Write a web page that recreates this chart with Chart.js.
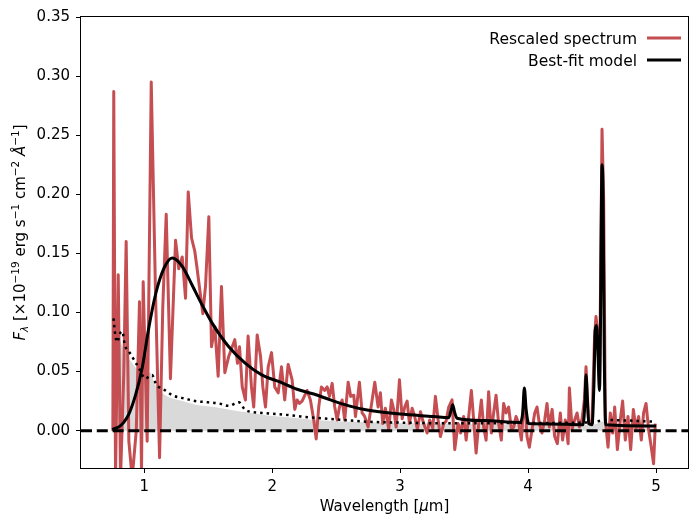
<!DOCTYPE html>
<html>
<head>
<meta charset="utf-8">
<script src="https://cdn.jsdelivr.net/npm/chart.js@4.4.0/dist/chart.umd.min.js"></script>
<style>
  html, body { margin: 0; padding: 0; background: #fff; }
  canvas { display: block; }
</style>
</head>
<body>
<canvas id="chart" width="689" height="516"></canvas>
<script>
// Rescaled spectrum
const specWave = [0.755, 0.762, 0.776, 0.797, 0.815, 0.84, 0.859, 0.880, 0.906, 0.938, 0.963, 0.979, 0.992, 1.023, 1.055, 1.088, 1.12, 1.145, 1.172, 1.205, 1.245, 1.270, 1.297, 1.323, 1.344, 1.37, 1.395, 1.41, 1.458, 1.479, 1.505, 1.526, 1.552, 1.578, 1.604, 1.630, 1.661, 1.688, 1.708, 1.729, 1.745, 1.766, 1.791, 1.812, 1.838, 1.856, 1.883, 1.909, 1.927, 1.948, 1.969, 1.995, 2.020, 2.047, 2.073, 2.098, 2.125, 2.156, 2.177, 2.195, 2.213, 2.234, 2.273, 2.299, 2.325, 2.344, 2.364, 2.385, 2.411, 2.430, 2.448, 2.469, 2.489, 2.508, 2.526, 2.547, 2.567, 2.594, 2.614, 2.638, 2.651, 2.682, 2.703, 2.723, 2.750, 2.776, 2.802, 2.828, 2.846, 2.864, 2.885, 2.911, 2.932, 2.950, 2.969, 2.995, 3.016, 3.036, 3.055, 3.073, 3.094, 3.114, 3.135, 3.159, 3.184, 3.211, 3.231, 3.255, 3.276, 3.297, 3.315, 3.341, 3.359, 3.380, 3.406, 3.427, 3.453, 3.473, 3.497, 3.516, 3.536, 3.557, 3.575, 3.594, 3.614, 3.635, 3.653, 3.672, 3.692, 3.713, 3.731, 3.750, 3.770, 3.791, 3.809, 3.828, 3.848, 3.870, 3.888, 3.906, 3.927, 3.948, 3.970, 3.992, 4.010, 4.031, 4.052, 4.070, 4.088, 4.109, 4.130, 4.148, 4.166, 4.188, 4.208, 4.229, 4.252, 4.270, 4.291, 4.313, 4.323, 4.344, 4.364, 4.383, 4.401, 4.422, 4.440, 4.453, 4.474, 4.500, 4.520, 4.531, 4.547, 4.559, 4.578, 4.591, 4.604, 4.625, 4.643, 4.661, 4.677, 4.698, 4.721, 4.739, 4.760, 4.781, 4.802, 4.823, 4.844, 4.864, 4.885, 4.903, 4.922, 4.942, 4.963, 4.981, 4.995];
const specFlux = [0.000, 0.287, -0.040, 0.132, -0.040, 0.047, 0.160, -0.009, -0.040, 0.000, 0.109, -0.035, 0.126, -0.009, 0.295, 0.118, -0.023, 0.104, 0.183, 0.044, 0.161, 0.137, 0.147, 0.112, 0.202, 0.163, 0.152, 0.140, 0.099, 0.122, 0.181, 0.071, 0.088, 0.046, 0.122, 0.049, 0.063, 0.071, 0.077, 0.057, 0.071, 0.037, 0.026, 0.080, 0.037, 0.020, 0.081, 0.063, 0.037, 0.020, 0.054, 0.066, 0.037, 0.032, 0.054, 0.026, 0.056, 0.043, 0.018, 0.026, 0.023, 0.025, 0.034, 0.026, 0.009, -0.007, 0.020, 0.037, 0.034, 0.037, 0.029, 0.040, 0.020, 0.009, 0.020, 0.026, 0.009, 0.041, 0.029, 0.030, 0.012, 0.041, 0.015, 0.012, 0.003, 0.022, 0.041, 0.020, 0.032, 0.006, 0.019, 0.001, 0.026, 0.018, 0.003, 0.043, 0.010, 0.020, 0.025, 0.006, 0.019, 0.012, 0.001, 0.016, 0.006, -0.002, 0.009, 0.002, 0.029, 0.009, -0.005, 0.006, 0.008, 0.020, 0.026, -0.016, 0.006, -0.002, 0.012, -0.008, 0.012, 0.034, 0.009, -0.019, 0.006, 0.026, 0.003, -0.008, 0.033, -0.002, 0.015, 0.030, 0.006, -0.008, 0.023, 0.015, 0.020, 0.001, 0.003, 0.012, 0.006, -0.008, 0.030, -0.005, -0.014, 0.001, 0.015, 0.020, 0.006, -0.002, 0.009, 0.023, 0.003, 0.018, -0.005, -0.011, 0.015, -0.008, 0.009, -0.011, 0.036, 0.001, 0.009, 0.015, 0.003, 0.010, 0.026, 0.054, 0.006, 0.009, 0.080, 0.0965, 0.080, 0.037, 0.255, 0.195, 0.009, -0.014, 0.015, -0.002, 0.020, -0.016, 0.009, 0.025, -0.008, 0.012, -0.016, 0.018, 0.001, 0.012, -0.008, 0.015, 0.023, 0.001, -0.014, -0.028, 0.006];

// Best-fit model
const modelWave = [0.75, 0.80, 0.84, 0.88, 0.932, 0.984, 1.036, 1.088, 1.153, 1.219, 1.297, 1.375, 1.44, 1.531, 1.661, 1.791, 1.922, 2.065, 2.195, 2.325, 2.455, 2.6, 2.742, 3.0, 3.263, 3.38, 3.40, 3.411, 3.425, 3.445, 3.653, 3.94, 3.958, 3.971, 3.985, 4.005, 4.174, 4.43, 4.445, 4.453, 4.462, 4.475, 4.50, 4.515, 4.525, 4.535, 4.548, 4.558, 4.566, 4.574, 4.578, 4.586, 4.596, 4.607, 5.0];
const modelFlux = [0.001, 0.003, 0.007, 0.014, 0.030, 0.053, 0.087, 0.115, 0.137, 0.146, 0.139, 0.123, 0.109, 0.091, 0.071, 0.057, 0.047, 0.041, 0.035, 0.031, 0.026, 0.021, 0.0175, 0.014, 0.012, 0.011, 0.018, 0.022, 0.016, 0.0105, 0.0085, 0.007, 0.015, 0.036, 0.018, 0.006, 0.0057, 0.005, 0.025, 0.047, 0.030, 0.006, 0.005, 0.040, 0.085, 0.089, 0.060, 0.034, 0.090, 0.200, 0.225, 0.200, 0.060, 0.005, 0.004];

// Dotted component
const compWave = [0.76, 0.775, 0.789, 0.81, 0.828, 0.85, 0.88, 0.92, 0.958, 1.01, 1.04, 1.062, 1.09, 1.114, 1.166, 1.219, 1.323, 1.40, 1.50, 1.583, 1.66, 1.739, 1.791, 1.922, 2.143, 2.221, 2.5, 2.742, 3.0, 3.263, 3.6, 4.0, 4.5, 4.6, 5.0];
const compFlux = [0.095, 0.080, 0.075, 0.082, 0.084, 0.072, 0.067, 0.060, 0.053, 0.044, 0.046, 0.047, 0.040, 0.037, 0.034, 0.030, 0.027, 0.025, 0.024, 0.023, 0.021, 0.024, 0.0175, 0.015, 0.013, 0.012, 0.0095, 0.0076, 0.0068, 0.0063, 0.0062, 0.0065, 0.007, 0.009, 0.0076];

// Shaded component
const shadeWave = [0.755, 0.80, 0.85, 0.90, 0.96, 1.01, 1.05, 1.08, 1.13, 1.2, 1.3, 1.4, 1.55, 1.7, 1.8, 1.95, 2.1, 2.3, 2.5, 2.8, 3.2, 3.6, 4.0, 4.5, 4.6, 4.65, 5.0];
const shadeFlux = [0.080, 0.078, 0.066, 0.058, 0.050, 0.048, 0.049, 0.040, 0.033, 0.028, 0.025, 0.022, 0.020, 0.017, 0.0155, 0.013, 0.0115, 0.0095, 0.008, 0.007, 0.006, 0.0055, 0.005, 0.005, 0.008, 0.005, 0.005];

const xTicks = [1, 2, 3, 4, 5];
const yTicks = [0, 0.05, 0.10, 0.15, 0.20, 0.25, 0.30, 0.35];
const xMin = 0.506, xMax = 5.25;
const yMin = -0.0316, yMax = 0.35;

const FONT = 'DejaVu Sans';

const toPoints = (xs, ys) => xs.map((x, i) => ({ x: x, y: ys[i] }));

// рамка, подписи осей и легенда
const decorPlugin = {
  id: 'decor',
  afterDraw(chart) {
    const ctx = chart.ctx;
    const area = chart.chartArea;
    ctx.save();
    ctx.strokeStyle = '#000';
    ctx.lineWidth = 1;
    ctx.strokeRect(area.left - 0.5, area.top - 0.5, area.right - area.left + 1, area.bottom - area.top + 1);

    ctx.fillStyle = '#000';
    ctx.textBaseline = 'alphabetic';

    // x title
    const xParts = [
      { t: 'Wavelength [', f: `15px "${FONT}"` },
      { t: 'μ', f: `italic 15px "${FONT}"` },
      { t: 'm]', f: `15px "${FONT}"` },
    ];
    let w = 0;
    xParts.forEach((p) => { ctx.font = p.f; w += ctx.measureText(p.t).width; });
    let pos = (area.left + area.right) / 2 - w / 2;
    xParts.forEach((p) => { ctx.font = p.f; ctx.fillText(p.t, pos, 510.5); pos += ctx.measureText(p.t).width; });

    // y title
    const big = `15px "${FONT}"`, small = `10.5px "${FONT}"`;
    const yParts = [
      { t: 'F', f: `italic 15px "${FONT}"`, dy: 0 },
      { t: 'λ', f: `italic 10.5px "${FONT}"`, dy: 3 },
      { t: ' [×10', f: big, dy: 0 },
      { t: '−19', f: small, dy: -6 },
      { t: ' erg s', f: big, dy: 0 },
      { t: '−1', f: small, dy: -6 },
      { t: ' cm', f: big, dy: 0 },
      { t: '−2', f: small, dy: -6 },
      { t: ' ', f: big, dy: 0 },
      { t: 'Å', f: `italic 15px "${FONT}"`, dy: 0 },
      { t: '−1', f: small, dy: -6 },
      { t: ']', f: big, dy: 0 },
    ];
    w = 0;
    yParts.forEach((p) => { ctx.font = p.f; w += ctx.measureText(p.t).width; });
    ctx.save();
    ctx.translate(25, 232.5);
    ctx.rotate(-Math.PI / 2);
    pos = -w / 2;
    yParts.forEach((p) => { ctx.font = p.f; ctx.fillText(p.t, pos, p.dy); pos += ctx.measureText(p.t).width; });
    ctx.restore();

    // legend
    const legend = [
      { label: 'Rescaled spectrum', color: '#c44e52', y: 38 },
      { label: 'Best-fit model', color: '#000', y: 60 },
    ];
    ctx.font = `15.5px "${FONT}"`;
    ctx.textAlign = 'right';
    legend.forEach((item) => {
      ctx.fillStyle = '#000';
      ctx.fillText(item.label, 637, item.y + 5.5);
      ctx.strokeStyle = item.color;
      ctx.lineWidth = 3;
      ctx.beginPath();
      ctx.moveTo(647, item.y);
      ctx.lineTo(681, item.y);
      ctx.stroke();
    });
    ctx.restore();
  },
};

const ctx = document.getElementById('chart').getContext('2d');
new Chart(ctx, {
  type: 'line',
  data: {
    datasets: [
      {
        label: 'zero',
        data: [{ x: xMin, y: 0 }, { x: xMax, y: 0 }],
        borderColor: '#000',
        borderWidth: 3,
        borderDash: [11, 4.8],
        pointRadius: 0,
        clip: 0,
      },
      {
        label: 'Best-fit model',
        data: toPoints(modelWave, modelFlux),
        borderColor: '#000',
        borderWidth: 3,
        borderJoinStyle: 'round',
        cubicInterpolationMode: 'monotone',
        pointRadius: 0,
        clip: 0,
      },
      {
        label: 'component',
        data: toPoints(compWave, compFlux),
        borderColor: '#000',
        borderWidth: 2.5,
        borderDash: [2.5, 4],
        cubicInterpolationMode: 'monotone',
        pointRadius: 0,
        clip: 0,
      },
      {
        label: 'Rescaled spectrum',
        data: toPoints(specWave, specFlux),
        borderColor: '#c44e52',
        borderWidth: 3,
        borderJoinStyle: 'round',
        pointRadius: 0,
        clip: 0,
      },
      {
        label: 'shade',
        data: toPoints(shadeWave, shadeFlux),
        borderWidth: 0,
        borderColor: 'rgba(0,0,0,0)',
        backgroundColor: '#d9d9d9',
        fill: 'origin',
        cubicInterpolationMode: 'monotone',
        pointRadius: 0,
        clip: 0,
      },
    ],
  },
  options: {
    responsive: false,
    animation: false,
    events: [],
    layout: { padding: { top: 17, right: 1, left: 0, bottom: 0 } },
    plugins: { legend: { display: false }, tooltip: { enabled: false } },
    elements: { line: { tension: 0 } },
    scales: {
      x: {
        type: 'linear',
        min: xMin,
        max: xMax,
        afterBuildTicks: (scale) => { scale.ticks = xTicks.map((v) => ({ value: v })); },
        afterFit: (scale) => { scale.height = 48; },
        grid: { drawOnChartArea: false, color: '#000', tickLength: 5, tickWidth: 1 },
        border: { display: false },
        ticks: {
          color: '#000',
          font: { family: FONT, size: 15 },
          padding: 5,
          maxRotation: 0,
          callback: (v) => String(v),
        },
      },
      y: {
        type: 'linear',
        min: yMin,
        max: yMax,
        afterBuildTicks: (scale) => { scale.ticks = yTicks.map((v) => ({ value: v })); },
        afterFit: (scale) => { scale.width = 81; },
        grid: { drawOnChartArea: false, color: '#000', tickLength: 5, tickWidth: 1 },
        border: { display: false },
        ticks: {
          color: '#000',
          font: { family: FONT, size: 15 },
          padding: 6,
          callback: (v) => v.toFixed(2),
        },
      },
    },
  },
  plugins: [decorPlugin],
});
</script>
</body>
</html>
